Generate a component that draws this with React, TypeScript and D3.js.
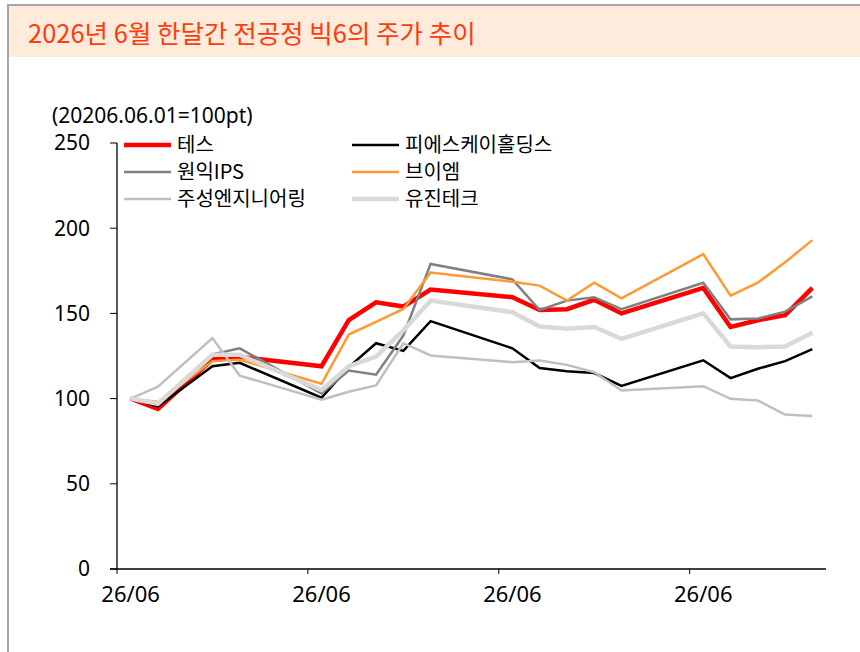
import { useMemo } from "react";
import { scaleLinear, line } from "d3";

const W = 860;
const H = 652;
const margin = { top: 143, right: 34, bottom: 83, left: 117 };

// trading days in June 2026 (day of month)
const days = [1, 2, 4, 5, 8, 9, 10, 11, 12, 15, 16, 17, 18, 19, 22, 23, 24, 25, 26];
const tickDays = [1, 8, 15, 22];
const yTicks = [0, 50, 100, 150, 200, 250];

const tes = [100, 94, 123, 124.5, 119, 146, 156.5, 154, 164, 159.5, 152, 152.5, 158, 150, 165, 142, 146, 149, 165];
const psk = [100, 95.5, 119, 121, 100.5, 118.5, 132.5, 128, 145.5, 129.5, 118, 116, 115, 107.5, 122.5, 112, 117.5, 122, 129];
const wonik = [100, 97, 126, 129.5, 103, 116.5, 114, 137, 179, 170, 152, 157.5, 159.5, 152.5, 168, 146.5, 147, 151, 160];
const vm = [100, 98, 122, 122.8, 108.7, 137.6, 145, 152.6, 174, 168.6, 166.3, 157.5, 168, 158.8, 184.8, 160.4, 168, 180, 193];
const jusung = [100, 107, 135.5, 113.5, 99.4, 104, 107.7, 132.5, 125.3, 121.4, 122.4, 119.8, 115.5, 104.8, 107.3, 99.9, 98.9, 90.6, 89.8];
const eugene = [100, 97, 125.7, 125.7, 105, 119, 124.7, 140, 157.5, 150.7, 142.3, 141, 142, 135, 150, 130.6, 130.2, 130.6, 138.6];

const series = [
  { name: "테스", values: tes, color: "#ff0000", width: 4.5 },
  { name: "피에스케이홀딩스", values: psk, color: "#000000", width: 2.5 },
  { name: "원익IPS", values: wonik, color: "#808080", width: 2.5 },
  { name: "브이엠", values: vm, color: "#ff9933", width: 2.5 },
  { name: "주성엔지니어링", values: jusung, color: "#bfbfbf", width: 2.5 },
  { name: "유진테크", values: eugene, color: "#d9d9d9", width: 4.5 },
];

const numFont = "'Noto Sans', 'Open Sans', sans-serif";
const krFont = "'Noto Sans CJK KR', 'Noto Sans', sans-serif";

export default function App() {
  const innerW = W - margin.left - margin.right;
  const innerH = H - margin.top - margin.bottom;

  const xScale = useMemo(
    () => scaleLinear().domain([0.5, 26.5]).range([margin.left, margin.left + innerW]),
    [innerW]
  );
  const yScale = useMemo(
    () => scaleLinear().domain([0, 250]).range([margin.top + innerH, margin.top]),
    [innerH]
  );

  const y0 = yScale(0);

  return (
    <svg
      width={W}
      height={H}
      style={{ position: "absolute", left: 0, top: 0, background: "#fff" }}
    >
      {/* frame + title band */}
      <rect x={8} y={5} width={W - 8} height={52} fill="#feebdc" />
      <line x1={7} x2={W} y1={5} y2={5} stroke="#a6a6a6" strokeWidth={2} />
      <line x1={8} x2={8} y1={4} y2={H} stroke="#a6a6a6" strokeWidth={2} />
      <text x={28} y={43} fill="#ff3c0a" fontSize={25.5} fontFamily={krFont}>
        2026년 6월 한달간 전공정 빅6의 주가 추이
      </text>

      <text x={52} y={123} fontSize={21} fontFamily={numFont} fill="#000">
        (20206.06.01=100pt)
      </text>

      {/* y axis */}
      <line x1={margin.left} x2={margin.left} y1={yScale(250)} y2={y0} stroke="#000" strokeWidth={1.3} />
      {yTicks.map((t) => (
        <g key={t}>
          <line x1={margin.left - 7} x2={margin.left} y1={yScale(t)} y2={yScale(t)} stroke="#000" strokeWidth={1} />
          <text
            x={90}
            y={yScale(t)}
            dy="0.35em"
            textAnchor="end"
            fontSize={21}
            fontFamily={numFont}
          >
            {t}
          </text>
        </g>
      ))}

      {/* x axis */}
      <line x1={margin.left - 7} x2={xScale(26.5)} y1={y0} y2={y0} stroke="#000" strokeWidth={1.3} />
      {tickDays.map((d) => (
        <g key={d}>
          <line x1={xScale(d - 0.5)} x2={xScale(d - 0.5)} y1={y0} y2={y0 + 5} stroke="#000" strokeWidth={1} />
          <text x={xScale(d)} y={602} textAnchor="middle" fontSize={22} fontFamily={numFont}>
            26/06
          </text>
        </g>
      ))}

      {/* lines */}
      {series.map((s) => {
        const path = line<number>()
          .x((_, i) => xScale(days[i]))
          .y((v) => yScale(v))(s.values);
        return (
          <path
            key={s.name}
            d={path || ""}
            fill="none"
            stroke={s.color}
            strokeWidth={s.width}
            strokeLinejoin="miter"
          />
        );
      })}

      {/* legend */}
      {series.map((s, i) => {
        const col = i % 2;
        const row = Math.floor(i / 2);
        const lx = col === 0 ? 124 : 352;
        const ly = 145 + row * 27;
        return (
          <g key={"lg" + s.name}>
            <line x1={lx} x2={lx + 47} y1={ly} y2={ly} stroke={s.color} strokeWidth={s.width} />
            <text x={lx + 53} y={ly} dy="0.36em" fontSize={20} fontFamily={krFont}>
              {s.name}
            </text>
          </g>
        );
      })}
    </svg>
  );
}
